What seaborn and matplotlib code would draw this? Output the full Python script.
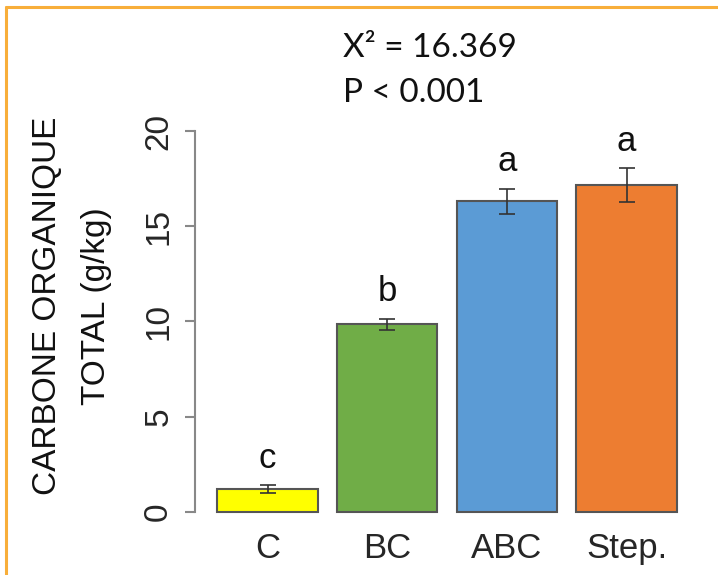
import matplotlib
matplotlib.use("Agg")
import matplotlib.pyplot as plt
from matplotlib.lines import Line2D
import seaborn as sns
import pandas as pd

categories = ["C", "BC", "ABC", "Step."]
values = [1.2, 9.85, 16.3, 17.15]
errors = [0.2, 0.3, 0.68, 0.9]
letters = ["c", "b", "a", "a"]
colors = ["#FFFF00", "#70AD47", "#5B9BD5", "#ED7D31"]
yticks = [0, 5, 10, 15, 20]

sns.set_style("white")
plt.rcParams["font.family"] = ["Liberation Sans", "DejaVu Sans"]

fig = plt.figure(figsize=(7.18, 5.75), dpi=100)
ax = fig.add_axes([0.2716, 0.0997, 0.7034, 0.6824])

df = pd.DataFrame({"cat": categories, "val": values})
sns.barplot(data=df, x="cat", y="val", hue="cat", palette=colors, legend=False,
            width=0.84, edgecolor="#555555", linewidth=1.5, ax=ax, errorbar=None,
            saturation=1)
ax.errorbar(range(len(values)), values, yerr=errors, fmt="none",
            ecolor="#333333", elinewidth=1.2, capsize=5.5, capthick=1.2)

for i, (v, e, l) in enumerate(zip(values, errors, letters)):
    ax.text(i, v + e + 1.4, l, ha="center", va="center", fontsize=25, color="#111111")

ax.set_xlim(-0.606, 3.614)
ax.set_ylim(-0.3, 20.3)
ax.set_yticks(yticks)
ax.set_yticklabels([str(t) for t in yticks])
ax.set_xlabel("")
ax.set_ylabel("")
for s in ["top", "right", "bottom"]:
    ax.spines[s].set_visible(False)
ax.spines["left"].set_bounds(0, 20)
ax.spines["left"].set_color("#888888")
ax.spines["left"].set_linewidth(1.5)
ax.tick_params(axis="y", length=7, width=1.5, color="#888888", pad=8,
               labelsize=24, labelrotation=90, left=True)
for lab in ax.get_yticklabels():
    lab.set_va("center")
ax.tick_params(axis="x", length=0, pad=10, labelsize=25)

fig.text(0.0655, 0.4678, "CARBONE ORGANIQUE", rotation=90, ha="center", va="center",
         fontsize=24, color="#111111")
fig.text(0.135, 0.4678, "TOTAL (g/kg)", rotation=90, ha="center", va="center",
         fontsize=24, color="#111111")

fig.text(0.4777, 0.9009, "X² = 16.369", ha="left", va="baseline", fontsize=24,
         family=["Lato", "DejaVu Sans"], color="#111111")
fig.text(0.4777, 0.8226, "P < 0.001", ha="left", va="baseline", fontsize=24,
         family=["Lato", "DejaVu Sans"], color="#111111")

border = "#F8AE3A"
fig.add_artist(Line2D([0.0084, 0.0084], [0, 0.9878], transform=fig.transFigure,
                      color=border, lw=2.2))
fig.add_artist(Line2D([0.0084, 1.0], [0.9878, 0.9878], transform=fig.transFigure,
                      color=border, lw=2.2))

fig.savefig("out.png", dpi=100)
